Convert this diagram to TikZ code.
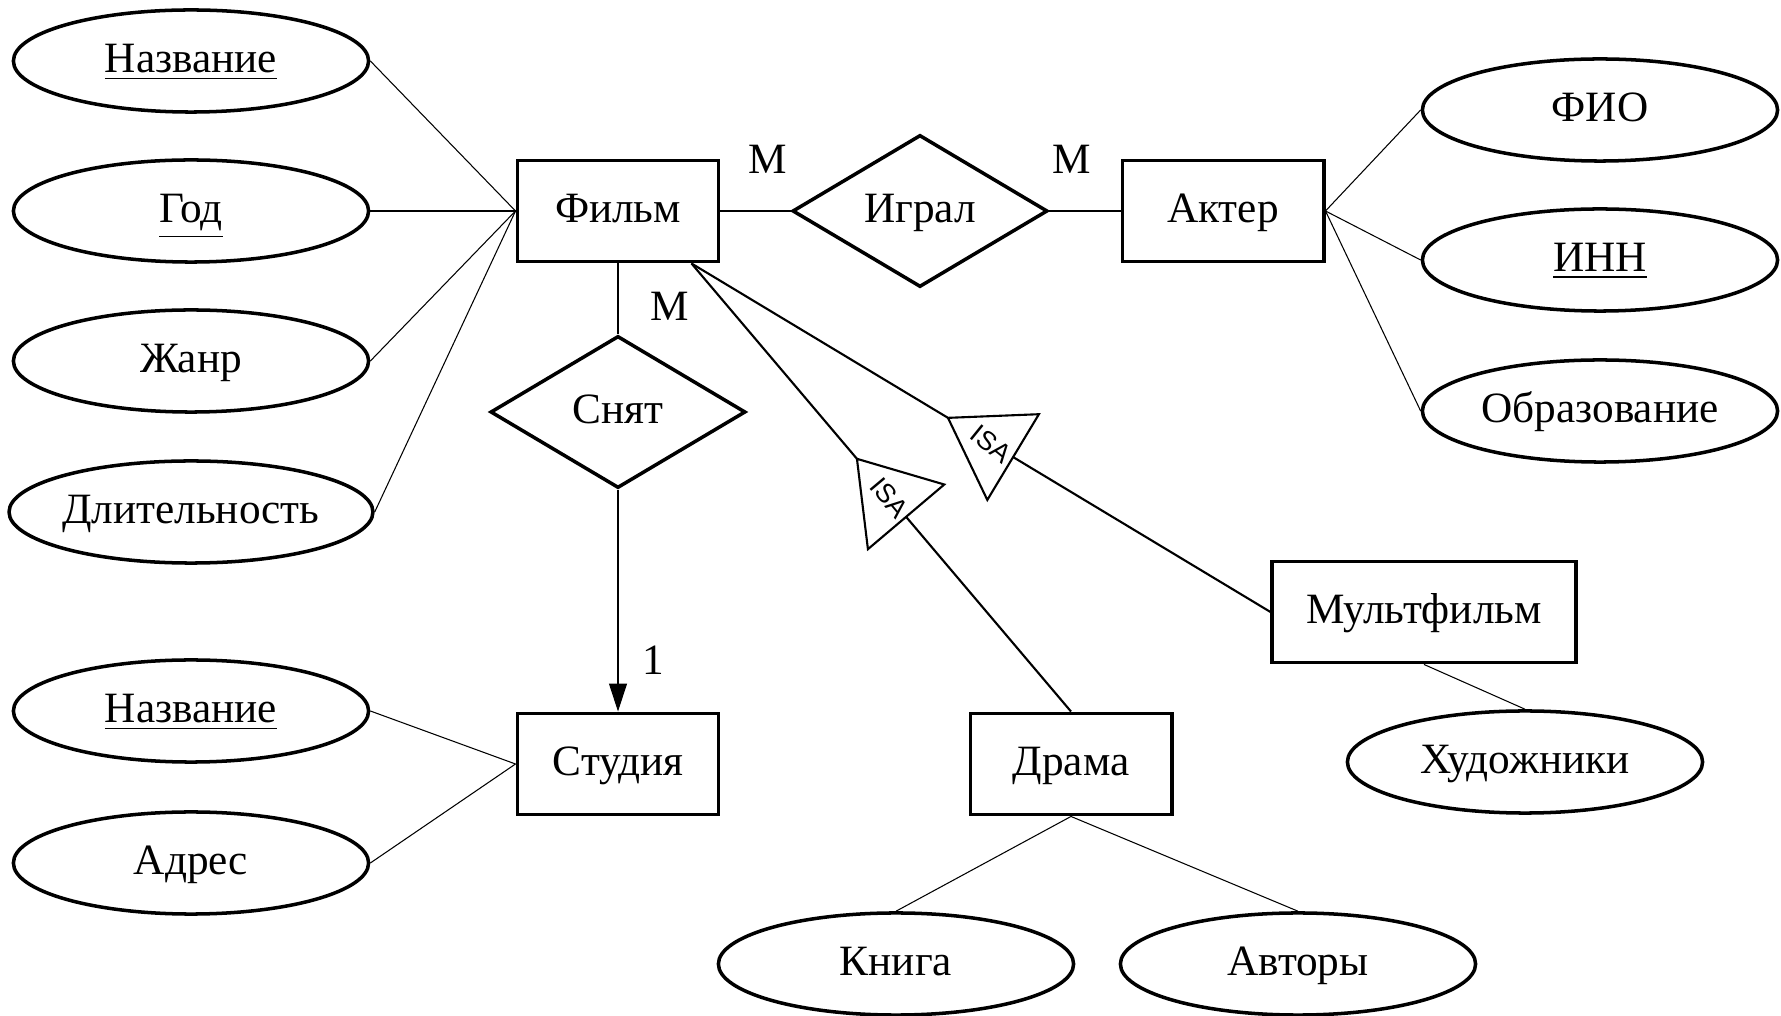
\documentclass[tikz,border=0pt]{standalone}
\usepackage{fontspec}
\setmainfont{Liberation Serif}
\newfontfamily\isafont{Liberation Sans}
\usepackage{tikz}
\usetikzlibrary{arrows.meta,positioning,shapes,calc}

\begin{document}
\begin{tikzpicture}[x=0.01cm,y=-0.01cm,
  font=\fontsize{12.3pt}{14pt}\selectfont,
  every node/.append style={text height=8.2pt, text depth=1.4pt},
  entity/.style={draw, line width=1.1pt, minimum width=2.01cm, minimum height=1.01cm, inner sep=0pt},
  attr/.style={draw, ellipse, line width=1pt, minimum width=3.55cm, minimum height=1.02cm, inner sep=0pt},
  rel/.style={draw, diamond, aspect=1.7, line width=1pt, minimum width=2.55cm, minimum height=1.52cm, inner sep=0pt},
  link/.style={line width=0.3pt},
  isaline/.style={line width=0.6pt},
  isatext/.style={font=\isafont\fontsize{7.6pt}{9pt}\selectfont, inner sep=0pt, text height=5.5pt, text depth=0pt}]
\useasboundingbox (0,0) rectangle (1781,1016);

% Entities
\node[entity] (film) at (618,211) {Фильм};
\node[entity] (actor) at (1223,211) {Актер};
\node[entity] (studio) at (618,764) {Студия};
\node[entity] (drama) at (1071,764) {Драма};
\node[entity, minimum width=3.03cm] (cartoon) at (1424,612) {Мультфильм};

% Relationships
\node[rel] (plays) at (920,211) {Играл};
\node[rel] (shot) at (618,412) {Снят};

% Film attributes
\node[attr] (ftitle) at (191,61) {\underline{Название}};
\node[attr] (fyear) at (191,211) {\underline{Год}};
\node[attr] (fgenre) at (191,361) {Жанр};
\node[attr] (flen) at (191,512) {Длительность};
\foreach \a in {ftitle,fyear,fgenre,flen}
  \draw[link] (\a.east) -- (film.west);

% Actor attributes
\node[attr] (aname) at (1600,110) {ФИО};
\node[attr] (ainn) at (1600,260) {\underline{ИНН}};
\node[attr] (aedu) at (1600,411) {Образование};
\foreach \a in {aname,ainn,aedu}
  \draw[link] (actor.east) -- (\a.west);

% Studio attributes
\node[attr] (stitle) at (191,711) {\underline{Название}};
\node[attr] (saddr) at (191,863) {Адрес};
\draw[link] (stitle.east) -- (studio.west);
\draw[link] (saddr.east) -- (studio.west);

% Subclass attributes
\node[attr] (dbook) at (896,964) {Книга};
\node[attr] (dauth) at (1298,964) {Авторы};
\node[attr] (cart) at (1525,762) {Художники};
\draw[link] (drama.south) -- (dbook.north);
\draw[link] (drama.south) -- (dauth.north);
\draw[link] (cartoon.south) -- (cart.north);

% Relationship links and cardinalities
\draw[link] (film.east) -- (plays.west);
\draw[link] (plays.east) -- (actor.west);
\draw[link] (film.south) -- (shot.north);
\draw[link, -{Triangle[length=2.8mm, width=1.8mm]}] (shot.south) -- (studio.north);
\node (c1) at (768,162) {M};
\node (c2) at (1072,162) {M};
\node (c3) at (670,309) {M};
\node (c4) at (653,663) {1};

% ISA links
\coordinate (fs) at ([xshift=-0.29cm]film.south east);

\coordinate (ia) at ($(fs)!0.436!(drama.north)$);
\coordinate (im) at ($(ia)!0.76cm!(drama.north)$);
\draw[isaline] (fs) -- (ia);
\draw[isaline] (im) -- (drama.north);
\draw[isaline] (ia) -- ($(im)!0.5cm!90:(ia)$) -- ($(im)!0.5cm!-90:(ia)$) -- cycle;
\node[isatext, rotate=-50] (isa1) at ($(ia)!0.667!(im)$) {ISA};

\coordinate (ja) at ($(fs)!0.443!(cartoon.west)$);
\coordinate (jm) at ($(ja)!0.76cm!(cartoon.west)$);
\draw[isaline] (fs) -- (ja);
\draw[isaline] (jm) -- (cartoon.west);
\draw[isaline] (ja) -- ($(jm)!0.5cm!90:(ja)$) -- ($(jm)!0.5cm!-90:(ja)$) -- cycle;
\node[isatext, rotate=-39] (isa2) at ($(ja)!0.667!(jm)$) {ISA};

\end{tikzpicture}
\end{document}
